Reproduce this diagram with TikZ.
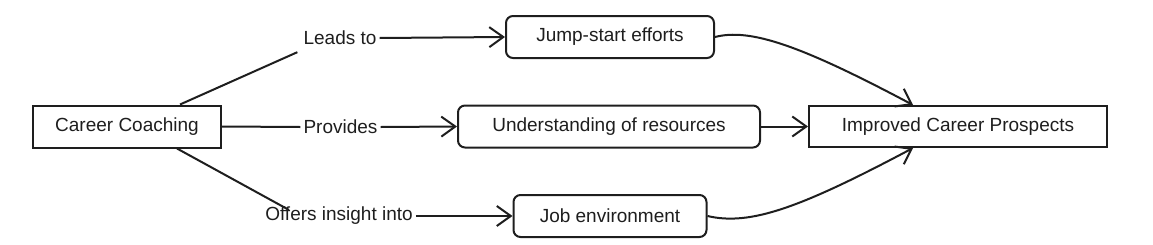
\documentclass[tikz,border=0pt]{standalone}
\usepackage{fontspec}
\setmainfont{Liberation Sans}
\usetikzlibrary{arrows.meta}
\definecolor{ink}{HTML}{1E1E1E}
\begin{document}
\begin{tikzpicture}[x=1pt,y=-1pt,
  font=\fontsize{19}{22}\selectfont,
  box/.style={draw=ink, line width=2pt, minimum height=42pt, inner sep=0pt, text=ink},
  rbox/.style={box, rounded corners=7pt},
  lbl/.style={inner sep=3pt, text=ink},
  conn/.style={line width=2pt, draw=ink},
  arr/.style={conn, -{Straight Barb[length=14pt, width=20pt, line width=2pt]}}
]
\useasboundingbox (0,0) rectangle (1153,244);
\node[box, minimum width=188pt] (cc) at (127,126.5) {Career Coaching};
\node[rbox, minimum width=208pt] (js) at (610,37) {Jump-start efforts};
\node[rbox, minimum width=302pt] (ur) at (609,126.5) {Understanding of resources};
\node[rbox, minimum width=193pt] (je) at (610,216) {Job environment};
\node[box, minimum width=298pt, minimum height=41pt] (ic) at (958,126.5) {Improved Career Prospects};
\node[lbl] (l1) at (340,38) {Leads to};
\node[lbl] (l2) at (340.5,127) {Provides};
\node[lbl] (l3) at (339,216) {Offers insight into};
\draw[conn] ([xshift=53pt]cc.north) -- ([xshift=-3pt,yshift=-4pt]l1.south west);
\draw[arr] (l1.east) -- (js.west);
\draw[conn] (cc.east) -- (l2.west);
\draw[arr] (l2.east) -- (ur.west);
\draw[conn] ([xshift=50pt]cc.south) -- ([xshift=-50pt,yshift=-6pt]l3.north);
\draw[arr] (l3.east) -- (je.west);
\draw[arr] (ur.east) -- (ic.west);
\draw[arr] (js.east) .. controls (750,28) and (800,45) .. ([xshift=-45pt]ic.north);
\draw[arr] (je.east) .. controls (750,226) and (800,208) .. ([xshift=-45pt]ic.south);
\end{tikzpicture}
\end{document}
